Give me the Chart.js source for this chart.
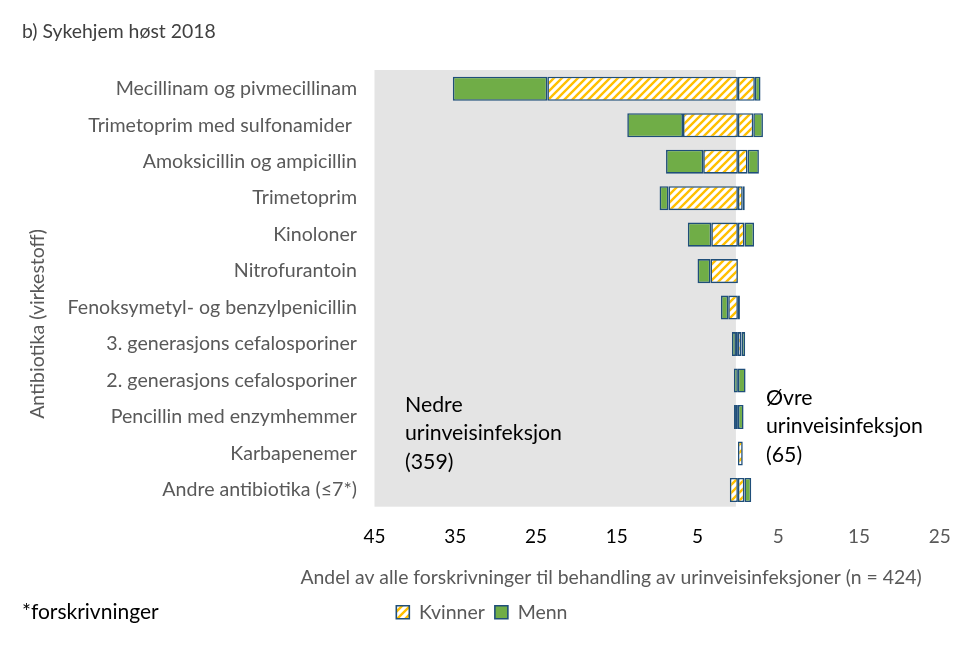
<!DOCTYPE html>
<html><head><meta charset="utf-8">
<script src="https://cdn.jsdelivr.net/npm/chart.js@4"></script>
<style>html,body{margin:0;padding:0;background:#fff}canvas{display:block}</style>
</head><body>
<canvas id="c" width="963" height="645"></canvas>
<script>
const categories = [
  'Mecillinam og pivmecillinam',
  'Trimetoprim med sulfonamider ',
  'Amoksicillin og ampicillin',
  'Trimetoprim',
  'Kinoloner',
  'Nitrofurantoin',
  'Fenoksymetyl- og benzylpenicillin',
  '3. generasjons cefalosporiner',
  '2. generasjons cefalosporiner',
  'Pencillin med enzymhemmer',
  'Karbapenemer',
  'Andre antibiotika (\u22647*)'
];
// percent of all prescriptions (n = 424)
const lowerWomen = [23.6, 6.8, 4.3, 8.6, 3.3, 3.4, 1.2, 0.24, 0, 0.24, 0, 1.0];
const lowerMen   = [11.7, 6.9, 4.6, 1.1, 2.9, 1.6, 0.9, 0.5, 0.5, 0.24, 0, 0];
const upperWomen = [2.1, 1.9, 1.2, 0.6, 0.8, 0, 0.25, 0.45, 0, 0, 0.6, 0.8];
const upperMen   = [0.7, 1.2, 1.4, 0.25, 1.2, 0, 0, 0.45, 0.95, 0.7, 0, 0.85];
const tickValues = [-45, -35, -25, -15, -5, 5, 15, 25];
const tickLabels = ['45', '35', '25', '15', '5', '5', '15', '25'];
const legendLabels = ['Kvinner', 'Menn'];
const titleText = 'b) Sykehjem h\u00f8st 2018';
const xTitle = 'Andel av alle forskrivninger til behandling av urinveisinfeksjoner (n = 424)';
const yTitle = 'Antibiotika (virkestoff)';
const footnote = '*forskrivninger';
const lowerNote = ['Nedre', 'urinveisinfeksjon', '(359)'];
const upperNote = ['\u00d8vre', 'urinveisinfeksjon', '(65)'];

const FONT = 'Lato';
const NAVY = '#1F4E79';
const GREEN = '#70AD47';

const hatch = (() => {
  const c = document.createElement('canvas');
  c.width = 8; c.height = 8;
  const g = c.getContext('2d');
  g.fillStyle = '#ffffff'; g.fillRect(0, 0, 8, 8);
  g.strokeStyle = '#FFC000'; g.lineWidth = 2.4; g.lineCap = 'square';
  g.beginPath();
  g.moveTo(-2, 10); g.lineTo(10, -2);
  g.moveTo(-2, 2); g.lineTo(2, -2);
  g.moveTo(6, 10); g.lineTo(10, 6);
  g.stroke();
  return g.createPattern(c, 'repeat');
})();

const neg = a => a.map(v => v ? -v : null);
const pos = a => a.map(v => v ? v : null);

const common = { borderColor: NAVY, borderWidth: 1.6, borderSkipped: false,
  categoryPercentage: 1, barPercentage: 0.66 };

const PAD_BOTTOM = 13;
const AREA_BOTTOM = 508.2;
const AREA_LEFT = 374.5;

const bgPlugin = {
  id: 'bg',
  beforeDatasetsDraw(chart) {
    const { ctx, chartArea, scales: { x } } = chart;
    ctx.save();
    ctx.fillStyle = '#E4E4E4';
    const x0 = x.getPixelForValue(-45), x1 = x.getPixelForValue(0) - 2;
    ctx.fillRect(x0, chartArea.top - 0.5, x1 - x0, chartArea.bottom - chartArea.top - 1);
    ctx.restore();
  }
};

const legendShift = {
  id: 'legendShift',
  afterLayout(chart) {
    if (chart.legend) { chart.legend.left += 12; chart.legend.right += 12; }
  }
};

const textPlugin = {
  id: 'texts',
  afterDraw(chart) {
    const ctx = chart.ctx;
    ctx.save();
    ctx.textBaseline = 'middle';
    ctx.fillStyle = '#404040';
    ctx.font = `19.4px ${FONT}`;
    ctx.textAlign = 'left';
    ctx.fillText(titleText, 22, 32);
    ctx.fillStyle = '#595959';
    ctx.font = `19.4px ${FONT}`;
    ctx.textAlign = 'center';
    ctx.fillText(xTitle, 611, 578);
    ctx.save();
    ctx.translate(38, 324);
    ctx.rotate(-Math.PI / 2);
    ctx.font = `19.5px ${FONT}`;
    ctx.fillText(yTitle, 0, 0);
    ctx.restore();
    ctx.fillStyle = '#000';
    ctx.textAlign = 'left';
    ctx.font = `21px ${FONT}`;
    ctx.fillText(footnote, 22, 612);
    ctx.font = `21.3px ${FONT}`;
    lowerNote.forEach((t, i) => ctx.fillText(t, 405, 405 + i * 28.5));
    upperNote.forEach((t, i) => ctx.fillText(t, 766, 398 + i * 28.5));
    ctx.restore();
  }
};

new Chart(document.getElementById('c'), {
  type: 'bar',
  data: {
    labels: categories,
    datasets: [
      { label: legendLabels[0], data: neg(lowerWomen), backgroundColor: hatch, ...common },
      { label: legendLabels[1], data: neg(lowerMen), backgroundColor: GREEN, ...common },
      { label: legendLabels[0] + ' ', data: pos(upperWomen), backgroundColor: hatch, ...common },
      { label: legendLabels[1] + ' ', data: pos(upperMen), backgroundColor: GREEN, ...common }
    ]
  },
  options: {
    indexAxis: 'y',
    responsive: false,
    animation: false,
    layout: { padding: { left: 0, right: 963 - 939.8, top: 70.5, bottom: PAD_BOTTOM } },
    scales: {
      x: {
        type: 'linear', min: -45, max: 25, stacked: true,
        grid: { display: false, drawTicks: false }, border: { display: false },
        afterBuildTicks(s) { s.ticks = tickValues.map(v => ({ value: v })); },
        afterFit(s) {
          s.paddingLeft = 0; s.paddingRight = 0;
          s.height = s.chart.height - PAD_BOTTOM - (s.chart.legend ? s.chart.legend.height : 0) - AREA_BOTTOM;
        },
        ticks: {
          callback: (v, i) => tickLabels[i],
          color: c => (c.tick && c.tick.value < 0) ? '#000000' : '#595959',
          font: { family: FONT, size: 19 }, padding: 17, autoSkip: false, maxRotation: 0
        }
      },
      y: {
        type: 'category', stacked: true,
        grid: { display: false, drawTicks: false }, border: { display: false },
        afterFit(s) { s.width = AREA_LEFT; },
        ticks: { color: '#595959', font: { family: FONT, size: 19.6 }, padding: 17.5, autoSkip: false }
      }
    },
    plugins: {
      legend: {
        position: 'bottom',
        labels: {
          filter: item => item.datasetIndex < 2,
          color: '#595959', font: { family: FONT, size: 19.5 },
          boxWidth: 13, boxHeight: 13, padding: 10
        }
      },
      tooltip: { callbacks: { label: c => `${c.dataset.label.trim()}: ${Math.abs(c.parsed.x)} %` } }
    }
  },
  plugins: [bgPlugin, legendShift, textPlugin]
});
</script>
</body></html>
